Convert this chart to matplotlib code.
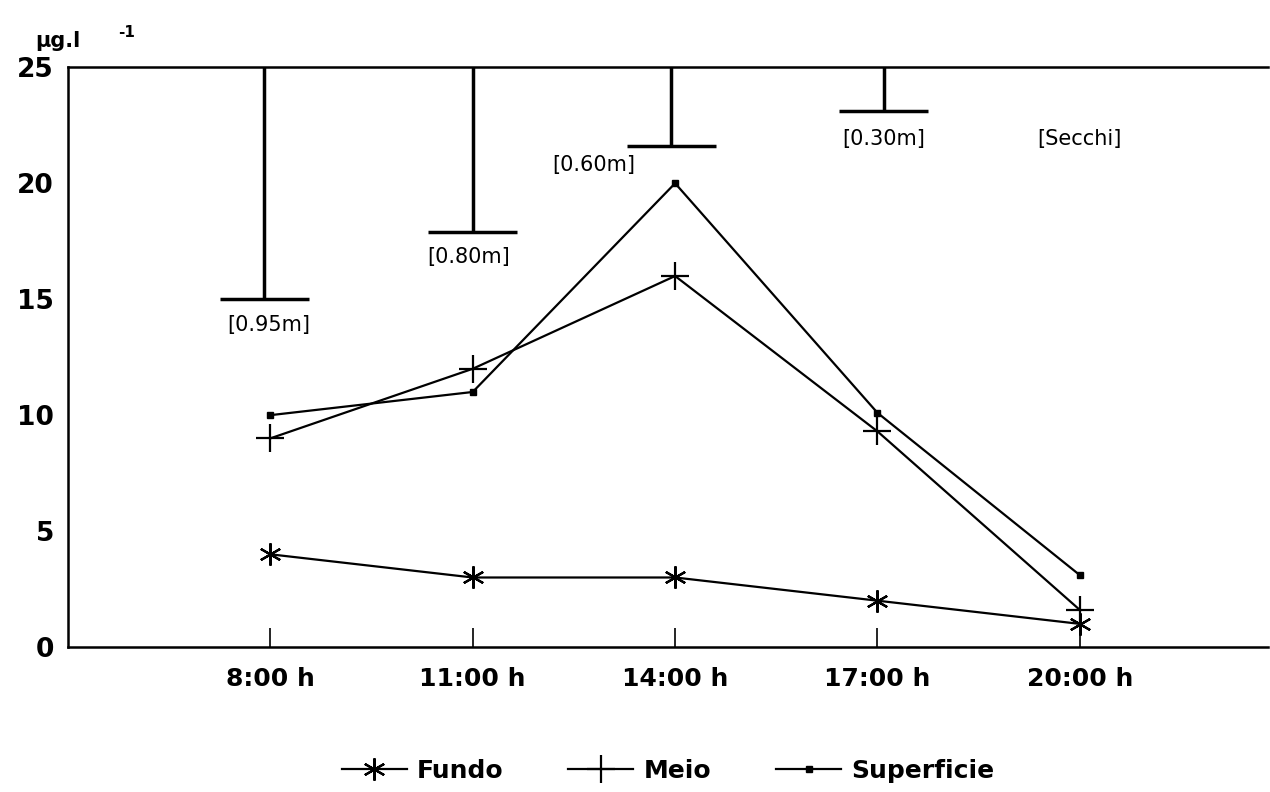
import matplotlib
matplotlib.use('Agg')
import matplotlib.pyplot as plt
import numpy as np

plt.rcParams['font.family'] = ['DejaVu Sans']

horas = ['8:00 h', '11:00 h', '14:00 h', '17:00 h', '20:00 h']
fundo = [4.0, 3.0, 3.0, 2.0, 1.0]
meio = [9.0, 12.0, 16.0, 9.3, 1.6]
superficie = [10.0, 11.0, 20.0, 10.1, 3.1]

# profundidade Secchi (fim da barra, em unidades do eixo y)
secchi_x = [-0.03, 1.0, 1.98, 3.03]
secchi_y = [15.0, 17.9, 21.6, 23.1]
secchi_lbl = ['[0.95m]', '[0.80m]', '[0.60m]', '[0.30m]']

x = np.arange(len(horas))

fig = plt.figure(figsize=(12.7, 7.92), dpi=100)
ax = fig.add_axes([0.0535, 0.183, 0.945, 0.732])

ax.plot(x, fundo, color='black', lw=1.6, marker=(6, 2, 0), ms=16, mew=1.6, label='Fundo')
ax.plot(x, meio, color='black', lw=1.6, marker='+', ms=20, mew=1.6, label='Meio')
ax.plot(x, superficie, color='black', lw=1.6, marker='s', ms=4, label='Superficie')

for xs, ys in zip(secchi_x, secchi_y):
    ax.plot([xs, xs], [25, ys], color='black', lw=2.5, solid_capstyle='butt')
    ax.plot([xs - 0.22, xs + 0.22], [ys, ys], color='black', lw=2.5, solid_capstyle='butt')

ax.text(-0.01, 13.9, secchi_lbl[0], ha='center', va='center', fontsize=15)
ax.text(0.98, 16.8, secchi_lbl[1], ha='center', va='center', fontsize=15)
ax.text(1.6, 20.8, secchi_lbl[2], ha='center', va='center', fontsize=15)
ax.text(3.03, 21.9, secchi_lbl[3], ha='center', va='center', fontsize=15)
ax.text(4.0, 21.9, '[Secchi]', ha='center', va='center', fontsize=15)

ax.set_xlim(-1.0, 4.93)
ax.set_ylim(0, 25)
ax.set_yticks([0, 5, 10, 15, 20, 25])
ax.set_xticks(x)
ax.set_xticklabels(horas)
ax.tick_params(axis='x', direction='in', length=14, width=1.2, pad=14, labelsize=18)
ax.tick_params(axis='y', length=0, pad=10, labelsize=19)
for t in ax.get_xticklabels() + ax.get_yticklabels():
    t.set_fontweight('bold')

ax.spines['right'].set_visible(False)
for s in ['left', 'bottom', 'top']:
    ax.spines[s].set_linewidth(1.8)

fig.text(0.028, 0.935, 'µg.l', fontsize=15, fontweight='bold', ha='left', va='bottom')
fig.text(0.093, 0.950, '-1', fontsize=11, fontweight='bold', ha='left', va='bottom')

ax.legend(loc='upper center', bbox_to_anchor=(0.5, -0.163), ncol=3, frameon=False,
          prop={'weight': 'bold', 'size': 18}, handlelength=2.6, columnspacing=2.6,
          handletextpad=0.4, borderpad=0.2)

fig.savefig('out.png', dpi=100)
